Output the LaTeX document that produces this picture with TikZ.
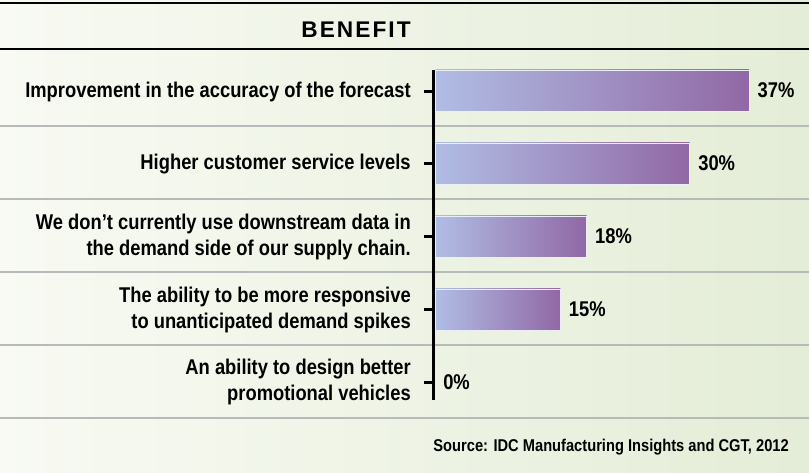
\documentclass[tikz,border=0pt]{standalone}
\usepackage{fontspec}
\setmainfont{Liberation Sans}
\newfontfamily\narrowfont{Liberation Sans}[FakeStretch=0.86]
\newfontfamily\spacedfont{Liberation Sans}[LetterSpace=9]
\usepackage{xcolor}
\definecolor{paper-left}{RGB}{248,250,243}
\definecolor{paper-right}{RGB}{228,237,215}
\definecolor{bar-left}{RGB}{176,189,228}
\definecolor{bar-right}{RGB}{145,104,165}
\definecolor{rule-gray}{RGB}{185,185,185}
\usepackage{tikz}
\usetikzlibrary{positioning}

\begin{document}
\begin{tikzpicture}[
    x=0.75pt, y=-0.75pt,
    every node/.style={inner sep=0pt},
    label text/.style={font=\narrowfont\bfseries\fontsize{16}{19.5}\selectfont, align=right, anchor=east},
    value text/.style={font=\narrowfont\bfseries\fontsize{16}{18}\selectfont},
    bar/.style={left color=bar-left, right color=bar-right, draw=white!75!bar-left, line width=0.5pt, minimum height=30.75pt, anchor=west},
    tick/.style={line width=2.25pt},
    sep/.style={rule-gray, line width=1.5pt}
]

% Background
\path[left color=paper-left, right color=paper-right] (0,0) rectangle (809,473);
\useasboundingbox (0,0) rectangle (809,473);

% Header
\draw[line width=1.5pt] (0,3) -- (809,3);
\node[font=\spacedfont\bfseries\fontsize{17}{20}\selectfont] (title) at (356,30) {BENEFIT};
\draw[line width=1.5pt] (0,49) -- (809,49);

% Row separators
\foreach \y in {126,199,272,345,418}
    \draw[sep] (0,\y) -- (809,\y);

% Axis
\coordinate (axis top) at (433.5,70);
\coordinate (axis bottom) at (433.5,400);
\draw[line width=2.25pt] (axis top) -- (axis bottom);

% Ticks
\coordinate (tick1) at (424,92);
\coordinate (tick2) at (424,164);
\coordinate (tick3) at (424,237);
\coordinate (tick4) at (424,310);
\coordinate (tick5) at (424,382);
\draw[tick] (tick1) -- (tick1 -| axis top);
\draw[tick] (tick2) -- (tick2 -| axis top);
\draw[tick] (tick3) -- (tick3 -| axis top);
\draw[tick] (tick4) -- (tick4 -| axis top);
\draw[tick] (tick5) -- (tick5 -| axis top);

% Row labels
\node[label text, left=9.75pt of tick1] (label1) {Improvement in the accuracy of the forecast};
\node[label text, left=9.75pt of tick2] (label2) {Higher customer service levels};
\node[label text, left=9.75pt of tick3] (label3) {We don’t currently use downstream data in\\the demand side of our supply chain.};
\node[label text, left=9.75pt of tick4] (label4) {The ability to be more responsive\\to unanticipated demand spikes};
\node[label text, left=9.75pt of tick5] (label5) {An ability to design better\\promotional vehicles};

% Bars
\node[bar, minimum width=37*6.36pt] (bar1) at (435,90.5) {};
\node[bar, minimum width=30*6.36pt] (bar2) at (435,163.5) {};
\node[bar, minimum width=18*6.3pt] (bar3) at (435,236.5) {};
\node[bar, minimum width=15*6.25pt] (bar4) at (435,309.5) {};
\coordinate (bar5) at (435,382);

% Values
\node[value text, right=6pt of bar1] (value1) {37\%};
\node[value text, right=6pt of bar2] (value2) {30\%};
\node[value text, right=6pt of bar3] (value3) {18\%};
\node[value text, right=6pt of bar4] (value4) {15\%};
\node[value text, right=6pt of bar5] (value5) {0\%};

% Source line
\node[font=\narrowfont\bfseries\fontsize{12.8}{15}\selectfont, anchor=east] (source) at (789,447) {Source: IDC Manufacturing Insights and CGT, 2012};

\end{tikzpicture}
\end{document}
